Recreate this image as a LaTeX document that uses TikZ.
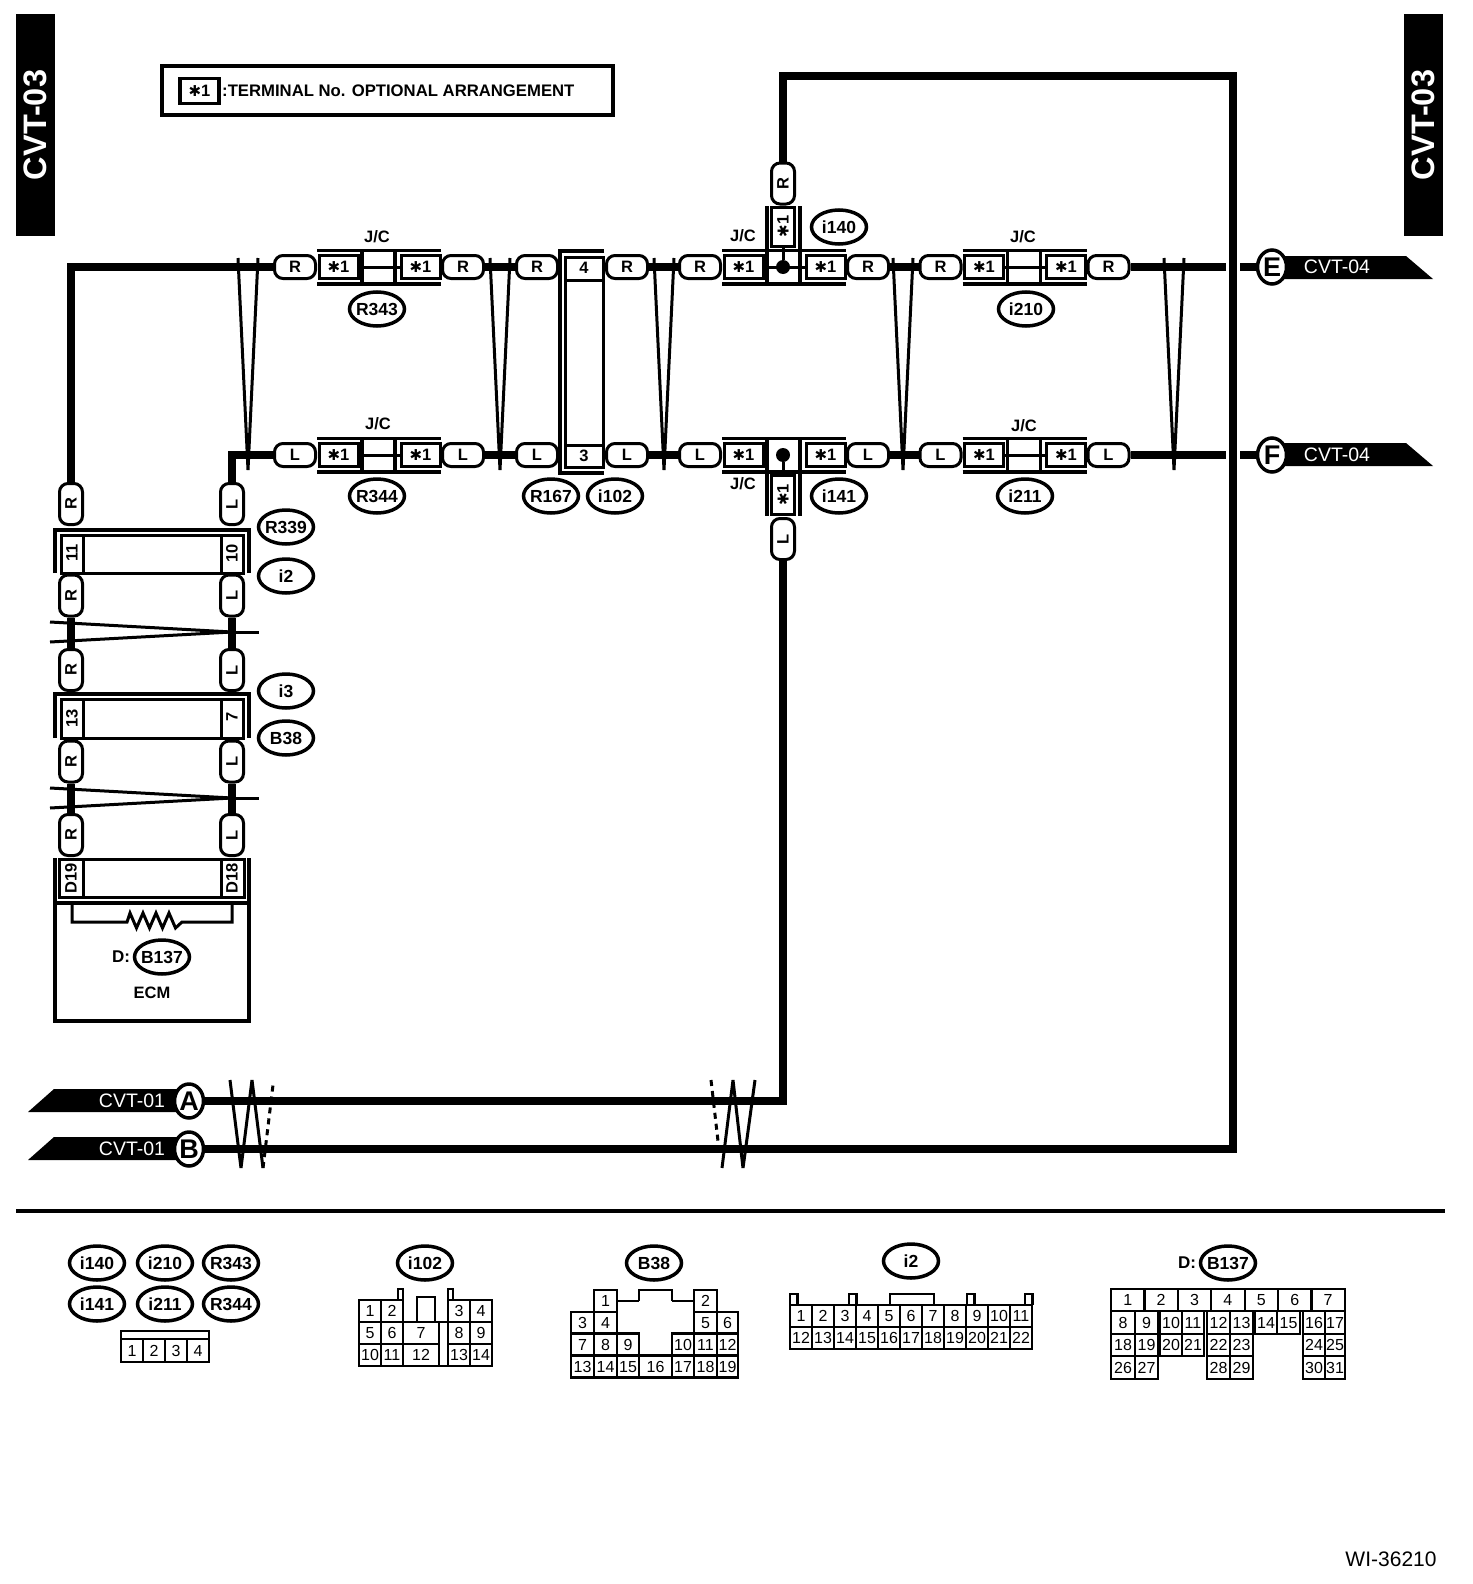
\documentclass[tikz,border=0pt]{standalone}
\usepackage{fontspec}
\setmainfont{Liberation Sans}
\newfontfamily\starfont{DejaVu Sans}
\usetikzlibrary{shapes.geometric}
\newcommand{\starone}{{\starfont\fontsize{15}{15}\selectfont ✱}1}
\tikzset{
	wire/.style = {line width = 8pt},
	thinwire/.style = {line width = 3pt},
	shield/.style = {line width = 3.5pt},
	brk/.style = {line width = 3pt, line join = bevel},
	pill/.style = {rectangle, rounded corners = 8.5pt,
		draw, fill = white, line width = 3pt, minimum width = 41pt, minimum height = 23pt, inner sep = 0pt,
		font = \bfseries\fontsize{16.5}{18}\selectfont},
	termbox/.style = {draw, fill = white, line width = 3pt, minimum width = 39pt, minimum height = 23pt, inner sep = 0pt,
		font = \bfseries\fontsize{16.5}{18}\selectfont},
	celltext/.style = {inner sep = 0pt, font = \bfseries\fontsize{16.5}{18}\selectfont},
	conntag/.style = {ellipse, draw, fill = white, line width = 3.5pt, minimum width = 55pt, minimum height = 34pt, inner xsep = -8pt, inner ysep = -4pt,
		font = \bfseries\fontsize{17.5}{18}\selectfont},
	endmark/.style = {ellipse, draw, fill = white, line width = 3.5pt, minimum width = 29pt, minimum height = 34pt, inner sep = 0pt,
		font = \bfseries\fontsize{27}{28}\selectfont},
	flagtext/.style = {inner sep = 0pt, text = white, font = \fontsize{19.5}{20}\selectfont},
	cvtblock/.style = {fill = black, text = white, rotate = 90, minimum width = 222pt, minimum height = 39pt, inner sep = 0pt,
		font = \bfseries\fontsize{32.5}{34}\selectfont},
	pincell/.style = {draw, line width = 2.2pt, minimum height = 22pt, minimum width = 22pt, inner sep = 0pt,
		text height = 11.5pt, text depth = 0pt, font = \fontsize{16}{17}\selectfont},
	jdot/.style = {circle, fill = black, minimum size = 14pt, inner sep = 0pt}
}
\begin{document}
\begin{tikzpicture}[x = 1pt, y = -1pt]
	\useasboundingbox (0, 0) rectangle (1472, 1584);
	\node[cvtblock] (cvtleft) at (35.5, 125) {CVT-03};
	\node[cvtblock] (cvtright) at (1423.5, 125) {CVT-03};
	\draw[shield] (162, 66) rectangle (613, 115);
	\node[termbox, line width = 3.5pt, minimum height = 25pt] (legbox) at (199.5, 91) {\starone};
	\node[celltext, anchor = west, font = \bfseries\fontsize{16.7}{18}\selectfont] (legtext) at (222, 91) {:TERMINAL No. OPTIONAL ARRANGEMENT};
	\foreach \g/\x/\y/\w in {ta/295/267/R, la/295/455/L, tb/700/267/R, lb/700/455/L, tc/940.5/267/R, lc/940.5/455/L}
	{
		\node[pill] (\g-p1) at (\x, \y) {\w};
		\node[termbox] (\g-b1) at (\x + 43.5, \y) {\starone};
		\node[termbox] (\g-b2) at (\x + 125.5, \y) {\starone};
		\node[pill] (\g-p2) at (\x + 168, \y) {\w};
		\draw[shield] (\x + 22, \y - 16.5) -- (\x + 146, \y - 16.5);
		\draw[shield] (\x + 22, \y + 17) -- (\x + 146, \y + 17);
		\draw[shield] (\x + 67, \y - 16.5) -- (\x + 67, \y + 17);
		\draw[shield] (\x + 100, \y - 16.5) -- (\x + 100, \y + 17);
	}
	\foreach \g in {ta, la, tb, tc, lc}
		\draw[thinwire] (\g-b1.east) -- (\g-b2.west);
	\node[pill, rotate = 90] (tb-v) at (783, 183.5) {R};
	\node[termbox, rotate = 90] (tb-b3) at (783, 226.5) {\starone};
	\node[jdot] (jtop) at (783, 267) {};
	\draw[thinwire] (jtop) -- (tb-b3.west);
	\draw[shield] (767, 206) -- (767, 250);
	\draw[shield] (800, 206) -- (800, 250);
	\node[pill, rotate = 90] (lb-v) at (783, 539) {L};
	\node[termbox, rotate = 90] (lb-b3) at (783, 495) {\starone};
	\node[jdot] (jlow) at (783, 455) {};
	\draw[thinwire] (jlow) -- (lb-b3.east);
	\draw[shield] (767, 472) -- (767, 516);
	\draw[shield] (800, 472) -- (800, 516);
	\foreach \nm/\x/\y/\w in {tm1/537/267/R, tm2/627/267/R, lm1/537/455/L, lm2/627/455/L}
		\node[pill] (\nm) at (\x, \y) {\w};
	\draw[shield] (604, 251) -- (560, 251) -- (560, 473) -- (604, 473);
	\draw[thinwire] (565, 257) rectangle (603, 467);
	\draw[thinwire] (565, 280) -- (603, 280);
	\draw[thinwire] (565, 445) -- (603, 445);
	\node[celltext] (cell4) at (584, 268) {4};
	\node[celltext] (cell3) at (584, 456) {3};
	\foreach \nm/\y/\w in {ra1/504/R, ra2/595.5/R, ra3/670/R, ra4/761.5/R, ra5/835/R}
		\node[pill, rotate = 90] (\nm) at (71, \y) {\w};
	\foreach \nm/\y/\w in {lf1/504/L, lf2/595.5/L, lf3/670/L, lf4/761.5/L, lf5/835/L}
		\node[pill, rotate = 90] (\nm) at (232, \y) {\w};
	\foreach \y/\b in {530/573, 694/738}
	{
		\draw[shield] (55, \b) -- (55, \y) -- (249, \y) -- (249, \b);
		\draw[thinwire] (61, \y + 5) rectangle (243, \b);
		\draw[thinwire] (83, \y + 5) -- (83, \b);
		\draw[thinwire] (221, \y + 5) -- (221, \b);
	}
	\draw[thinwire] (59, 859) rectangle (244, 897);
	\draw[thinwire] (83, 859) -- (83, 897);
	\draw[thinwire] (221, 859) -- (221, 897);
	\draw[shield] (55, 858) -- (55, 1021) -- (249, 1021) -- (249, 858);
	\draw[shield] (55, 903) -- (249, 903);
	\foreach \nm/\x/\y/\w in {c11/72/553/11, c10/232/553/10, c13/72/718/13, c7/232/717/7, cd19/71/878/D19, cd18/232/878/D18}
		\node[celltext, rotate = 90] (\nm) at (\x, \y) {\w};
	\draw[thinwire] (72, 904) -- (72, 922) -- (127, 922) -- (130, 913) -- (136.5, 928) -- (143, 913) -- (149.5, 928) -- (156, 913) -- (162.5, 928) -- (169, 913) -- (175.5, 928) -- (182, 922) -- (232, 922) -- (232, 904);
	\node[celltext, font = \bfseries\fontsize{17}{18}\selectfont] (dpre) at (121, 957) {D:};
	\node[celltext] (ecm) at (152, 993) {ECM};
	\foreach \lab/\x/\y [count = \i] in {R343/377/309, R344/377/496, R167/551/496, i102/615/496, i140/839/227, i141/839/496, i210/1026/309, i211/1025/496,
		R339/286/527, i2/286/576, i3/286/691, B38/286/738, B137/162/957,
		i140/97/1263, i210/165/1263, R343/231/1263, i141/97/1304, i211/165/1304, R344/231/1304,
		i102/425/1263, B38/654/1263, i2/911/1261, B137/1228/1263}
		\node[conntag] (tag\i) at (\x, \y) {\lab};
	\node[celltext, font = \bfseries\fontsize{17}{18}\selectfont] (dpanel) at (1187, 1263) {D:};
	\foreach \x/\y [count = \i] in {377/237, 378/424, 743/236, 743/484, 1023/237, 1024/426}
		\node[celltext] (jc\i) at (\x, \y) {J/C};
	\fill (1272, 256) -- (1406, 256) -- (1433, 279) -- (1272, 279) -- cycle;
	\fill (1272, 443) -- (1406, 443) -- (1433, 466) -- (1272, 466) -- cycle;
	\fill (28, 1112) -- (54, 1089) -- (189, 1089) -- (189, 1112) -- cycle;
	\fill (28, 1160) -- (54, 1137) -- (189, 1137) -- (189, 1160) -- cycle;
	\node[endmark] (mE) at (1272, 267) {E};
	\node[endmark] (mF) at (1272, 455) {F};
	\node[endmark] (mA) at (189, 1101) {A};
	\node[endmark] (mB) at (189, 1149) {B};
	\node[flagtext] (ftE) at (1337, 267) {CVT-04};
	\node[flagtext] (ftF) at (1337, 455) {CVT-04};
	\node[flagtext] (ftA) at (132, 1101) {CVT-01};
	\node[flagtext] (ftB) at (132, 1149) {CVT-01};
	\coordinate (trc) at (1232.5, 76);
	\coordinate (ecut) at (1226, 267);
	\coordinate (ecut2) at (1240, 267);
	\coordinate (fcut) at (1226, 455);
	\coordinate (fcut2) at (1240, 455);
	\draw[wire] (ra1.east) |- (ta-p1.west);
	\draw[wire] (ta-p2.east) -- (tm1.west);
	\draw[wire] (tm2.east) -- (tb-p1.west);
	\draw[wire] (tb-p2.east) -- (tc-p1.west);
	\draw[wire] (tc-p2.east) -- (ecut);
	\draw[wire] (ecut2) -- (mE.west);
	\draw[wire] (lf1.east) |- (la-p1.west);
	\draw[wire] (la-p2.east) -- (lm1.west);
	\draw[wire] (lm2.east) -- (lb-p1.west);
	\draw[wire] (lb-p2.east) -- (lc-p1.west);
	\draw[wire] (lc-p2.east) -- (fcut);
	\draw[wire] (fcut2) -- (mF.west);
	\draw[wire] (ra2.west) -- (ra3.east);
	\draw[wire] (ra4.west) -- (ra5.east);
	\draw[wire] (lf2.west) -- (lf3.east);
	\draw[wire] (lf4.west) -- (lf5.east);
	\draw[wire] (tb-v.east) |- (trc) |- (mB.east);
	\draw[wire] (lb-v.west) |- (mA.east);
	\foreach \x in {248, 500, 664, 903, 1174}
		\draw[brk] (\x - 10, 258) -- (\x, 470) -- (\x + 10, 258);
	\foreach \y in {632, 798}
	{
		\draw[brk] (50, \y - 10) -- (232, \y) -- (50, \y + 10);
		\draw[brk] (232, \y) -- (259, \y);
	}
	\draw[brk] (230, 1080) -- (241, 1168) -- (252, 1080) -- (263, 1168);
	\draw[brk, dash pattern = on 6pt off 5pt] (263, 1168) -- (273, 1085);
	\draw[brk] (722, 1168) -- (733, 1080) -- (743, 1168) -- (755, 1080);
	\draw[brk, dash pattern = on 6pt off 5pt] (711, 1080) -- (718, 1141);
	\draw[shield] (16, 1211) -- (1445, 1211);
	\draw[pincell] (121, 1331) rectangle (209, 1339);
	\foreach \n [count = \i from 0] in {1, 2, 3, 4}
		\node[pincell, minimum height = 23pt] (fp\n) at (132 + 22 * \i, 1350.5) {\n};
	\foreach \n/\x/\y/\w in {1/370/1311/22, 2/392/1311/22, 3/459/1311/22, 4/481/1311/22, 5/370/1333/22, 6/392/1333/22, 7/421/1333/36, 8/459/1333/22, 9/481/1333/22,
		10/370/1355/22, 11/392/1355/22, 12/421/1355/36, 13/459/1355/22, 14/481/1355/22}
		\node[pincell, minimum width = \w pt] (jp\n) at (\x, \y) {\n};
	\draw[pincell] (439, 1322) -- (448, 1322);
	\draw[pincell] (439, 1366) -- (448, 1366);
	\draw[pincell] (398, 1300) |- (403, 1289) -- (403, 1300);
	\draw[pincell] (448, 1300) |- (453, 1289) -- (453, 1300);
	\draw[pincell] (417, 1322) |- (435, 1297) -- (435, 1322);
	\foreach \n/\x/\y/\w in {1/605.5/1301/23, 2/705.5/1301/23, 3/582.5/1323/23, 4/605.5/1323/23, 5/705.5/1323/23, 6/727.5/1323/21,
		7/582.5/1344.5/23, 8/605.5/1344.5/23, 9/628/1344.5/22, 10/683/1344.5/22, 11/705.5/1344.5/23, 12/727.5/1344.5/21,
		13/582.5/1366.5/23, 14/605.5/1366.5/23, 15/628/1366.5/22, 16/655.5/1366.5/33, 17/683/1366.5/22, 18/705.5/1366.5/23, 19/727.5/1366.5/21}
		\node[pincell, minimum width = \w pt] (bp\n) at (\x, \y) {\n};
	\draw[pincell] (617, 1301) -- (639, 1301);
	\draw[pincell] (672, 1301) -- (694, 1301);
	\draw[pincell] (639, 1301) |- (672, 1290) -- (672, 1301);
	\foreach \n [count = \i from 0] in {1, ..., 11}
		\node[pincell] (ia\n) at (801 + 22 * \i, 1316) {\n};
	\foreach \n [count = \i from 0] in {12, ..., 22}
		\node[pincell] (ia\n) at (801 + 22 * \i, 1338) {\n};
	\foreach \x in {790, 849, 967, 1025}
		\draw[pincell] (\x, 1305) |- (\x + 7.5, 1294) -- (\x + 7.5, 1305);
	\draw[pincell] (890, 1305) |- (934, 1294) -- (934, 1305);
	\foreach \n [count = \i from 0] in {1, ..., 7}
		\node[pincell, minimum width = 33.4pt] (dt\n) at (1127.7 + 33.4 * \i, 1300) {\n};
	\foreach \n/\x/\y/\w in {8/1123/1322.5/24, 9/1146.5/1322.5/23, 10/1171/1322.5/22, 11/1193/1322.5/22, 12/1218.5/1322.5/23, 13/1241.5/1322.5/23,
		14/1266/1322.5/22, 15/1288.5/1322.5/23, 16/1314/1322.5/22, 17/1335/1322.5/20,
		18/1123/1345/24, 19/1146.5/1345/23, 20/1171/1345/22, 21/1193/1345/22, 22/1218.5/1345/23, 23/1241.5/1345/23, 24/1314/1345/22, 25/1335/1345/20,
		26/1123/1367.5/24, 27/1146.5/1367.5/23, 28/1218.5/1367.5/23, 29/1241.5/1367.5/23, 30/1314/1367.5/22, 31/1335/1367.5/20}
		\node[pincell, minimum width = \w pt, minimum height = 22.5pt] (dp\n) at (\x, \y) {\n};
	\node[inner sep = 0pt, font = \fontsize{21}{22}\selectfont] (wiref) at (1391, 1559) {WI-36210};
\end{tikzpicture}
\end{document}
